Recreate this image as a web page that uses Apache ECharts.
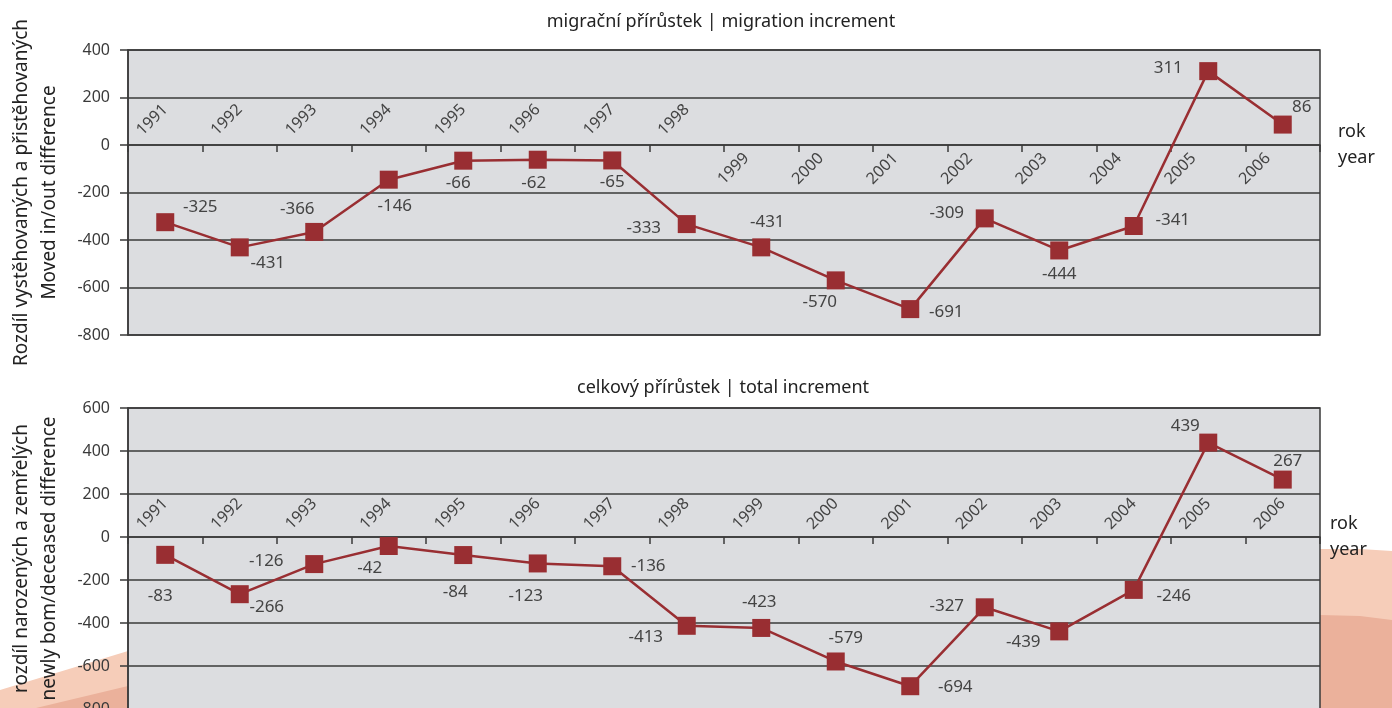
<!DOCTYPE html>
<html>
<head>
<meta charset="utf-8">
<script src="https://cdn.jsdelivr.net/npm/echarts@6/dist/echarts.min.js"></script>
<style>
html,body{margin:0;padding:0;background:#fff;}
#chart{width:1392px;height:708px;}
</style>
</head>
<body>
<div id="chart"></div>
<script>
// ---- data ----
const years = ['1991','1992','1993','1994','1995','1996','1997','1998','1999','2000','2001','2002','2003','2004','2005','2006'];
const migration = [-325,-431,-366,-146,-66,-62,-65,-333,-431,-570,-691,-309,-444,-341,311,86];
const total = [-83,-266,-126,-42,-84,-123,-136,-413,-423,-579,-694,-327,-439,-246,439,267];
const migTicks = [-800,-600,-400,-200,0,200,400];
const totTicks = [-800,-600,-400,-200,0,200,400,600];

// ---- styling (label offsets in px, relative to marker) ----
const migLabelOffsets = [[35,-15],[28,16],[-17,-23],[6,26],[-5,22],[-4,23],[0,22],[-43,4],[6,-25],[-16,22],[36,3],[-38,-5],[0,24],[39,-6],[-40,-3],[19,-17]];
const totLabelOffsets = [[-5,41],[27,13],[-48,-3],[-19,22],[-8,37],[-12,33],[36,0],[-41,11],[-2,-26],[10,-23],[45,1],[-38,-1],[-36,11],[40,6],[-23,-16],[5,-18]];

const FONT = 'Noto Sans';
const TXT = '#3a3a3a';
const RED = '#992e32';

const GRID_TOP = {top:50, height:285};
const GRID_BOT = {top:408, height:301};

function seriesData(vals, offs){
  return vals.map((v,i)=>({value:v, label:{offset:offs[i]}}));
}
// distance of the zero line above the grid bottom, from the axis range
function zeroOffset(ticks, height){
  const mn = ticks[0], mx = ticks[ticks.length-1];
  return -((0 - mn) / (mx - mn)) * height;
}

const chart = echarts.init(document.getElementById('chart'), null, {renderer:'canvas'});

const gridCommon = {show:true, left:128, width:1192, backgroundColor:'#dcdde0', borderColor:'#3a3a3a', borderWidth:1.5, outerBoundsMode:'none'};

function yAxis(gridIndex, name, ticks){
  return {
    type:'value', gridIndex, min:ticks[0], max:ticks[ticks.length-1], interval:200,
    name, nameLocation:'middle', nameRotate:90, nameGap:92,
    nameTextStyle:{fontFamily:FONT, fontSize:19, color:'#222', lineHeight:28, align:'center', verticalAlign:'middle'},
    axisLine:{show:true, lineStyle:{color:'#3a3a3a', width:1.5}},
    axisTick:{show:true, inside:false, length:8, lineStyle:{color:'#3a3a3a', width:1.5}},
    axisLabel:{fontFamily:FONT, fontSize:16, color:TXT, margin:18},
    splitLine:{show:true, lineStyle:{color:'#3a3a3a', width:1.5}}
  };
}

function xAxis(gridIndex, off, opts){
  return Object.assign({
    type:'category', gridIndex, data:years, position:'bottom', boundaryGap:true, offset:off,
    axisLine:{show:true, onZero:false, lineStyle:{color:'#3a3a3a', width:1.5}},
    axisTick:{show:true, length:7, lineStyle:{color:'#3a3a3a', width:1.5}},
    splitLine:{show:false}
  }, opts);
}

const labelBase = {fontFamily:FONT, fontSize:16, color:'#444', rotate:45, interval:0, hideOverlap:false};
const nameStyle = {fontFamily:FONT, fontSize:18, color:'#222', lineHeight:26, align:'left', verticalAlign:'middle'};

const offTop = zeroOffset(migTicks, GRID_TOP.height);
const offBot = zeroOffset(totTicks, GRID_BOT.height);

const option = {
  animation:false,
  textStyle:{fontFamily:FONT},
  title:[
    {text:'migrační přírůstek | migration increment', left:716, top:8, textAlign:'center',
     textStyle:{fontFamily:FONT, fontSize:18, fontWeight:'normal', color:'#222'}},
    {text:'celkový přírůstek | total increment', left:718, top:374, textAlign:'center',
     textStyle:{fontFamily:FONT, fontSize:18, fontWeight:'normal', color:'#222'}}
  ],
  graphic:[
    {type:'polygon', z:-10, silent:true, shape:{points:[[0,690],[128,651],[128,708],[0,708]]}, style:{fill:'#f6cdb9'}},
    {type:'polygon', z:-9, silent:true, shape:{points:[[36,708],[128,686],[128,708]]}, style:{fill:'#ebb19b'}},
    {type:'polygon', z:-10, silent:true, shape:{points:[[1320,549],[1360,549],[1392,551],[1392,708],[1320,708]]}, style:{fill:'#f6cdb9'}},
    {type:'polygon', z:-9, silent:true, shape:{points:[[1320,615],[1360,616],[1392,620],[1392,708],[1320,708]]}, style:{fill:'#ebb19b'}}
  ],
  grid:[
    Object.assign({}, GRID_TOP, gridCommon),
    Object.assign({}, GRID_BOT, gridCommon)
  ],
  yAxis:[
    yAxis(0, 'Rozdíl vystěhovaných a přistěhovaných\nMoved in/out difference', migTicks),
    yAxis(1, 'rozdíl narozených a zemřelých\nnewly bom/deceased difference', totTicks)
  ],
  xAxis:[
    xAxis(0, offTop, {
      name:'rok\nyear', nameLocation:'end', nameGap:18, nameTextStyle:nameStyle,
      axisLabel:Object.assign({}, labelBase, {margin:-4, padding:[0,21,0,0], formatter:(v)=>years.indexOf(v)>=8?v:''})
    }),
    xAxis(0, offTop, {
      axisLine:{show:false, onZero:false}, axisTick:{show:false},
      axisLabel:Object.assign({}, labelBase, {margin:-38, formatter:(v)=>years.indexOf(v)<8?v:''})
    }),
    xAxis(1, offBot, {
      name:'rok\nyear', nameLocation:'end', nameGap:10, nameTextStyle:nameStyle,
      axisLabel:Object.assign({}, labelBase, {margin:-36})
    })
  ],
  series:[
    {type:'line', xAxisIndex:0, yAxisIndex:0, data:seriesData(migration, migLabelOffsets),
     symbol:'rect', symbolSize:18, lineStyle:{color:RED, width:2.5}, itemStyle:{color:RED},
     label:{show:true, position:'inside', fontFamily:FONT, fontSize:17, color:'#444'}},
    {type:'line', xAxisIndex:2, yAxisIndex:1, data:seriesData(total, totLabelOffsets),
     symbol:'rect', symbolSize:18, lineStyle:{color:RED, width:2.5}, itemStyle:{color:RED},
     label:{show:true, position:'inside', fontFamily:FONT, fontSize:17, color:'#444'}}
  ]
};
chart.setOption(option);
</script>
</body>
</html>
